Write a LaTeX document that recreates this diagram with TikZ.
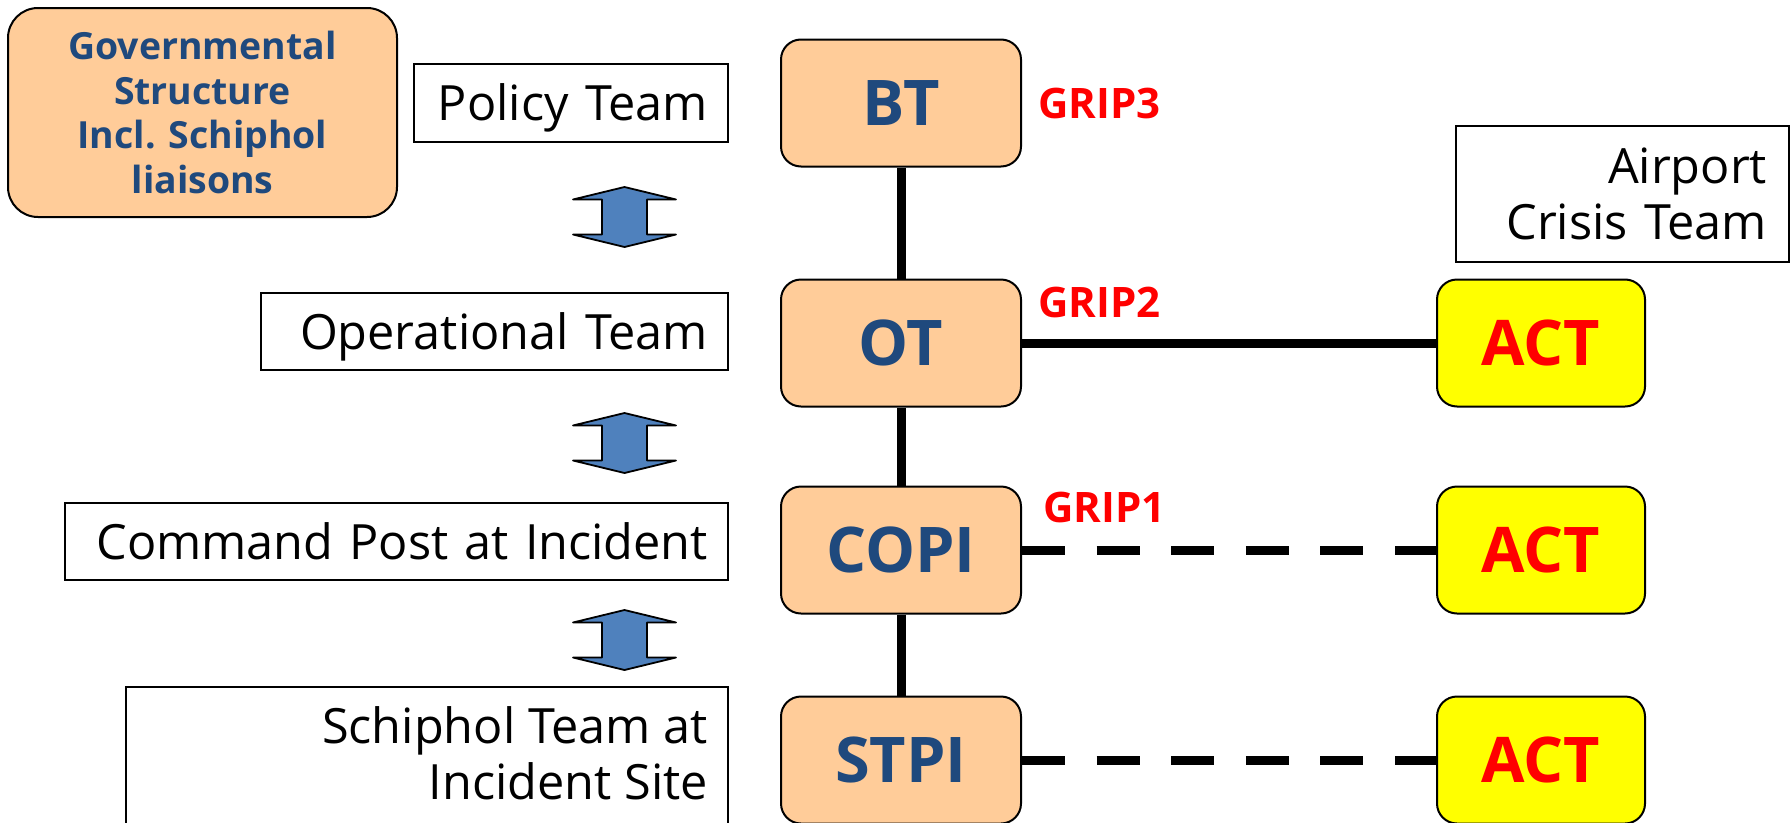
\documentclass[tikz,border=0pt]{standalone}
\usepackage{fontspec}
\setmainfont{Open Sans}
\definecolor{peach}{RGB}{255,204,153}
\definecolor{navy}{RGB}{31,73,125}
\definecolor{arrowblue}{RGB}{79,129,189}
\definecolor{actyellow}{RGB}{255,255,0}
\definecolor{gripred}{RGB}{255,0,0}
\begin{document}
\begin{tikzpicture}[x=1pt,y=-1pt,
  orgbox/.style={draw=black, line width=2pt, fill=peach, rounded corners=20pt,
    minimum width=240pt, minimum height=127pt, inner sep=0pt, text=navy,
    font=\bfseries\fontsize{63}{70}\selectfont},
  actbox/.style={orgbox, fill=actyellow, text=gripred, minimum width=208pt},
  lblbox/.style={draw=black, line width=1.8pt, fill=white, inner xsep=20pt, inner ysep=0pt,
    align=right, font=\fontsize{48.6}{56}\selectfont},
  lbltext/.style={font=\fontsize{48.6}{56}\selectfont, align=right, inner sep=0pt},
  grip/.style={text=gripred, font=\bfseries\fontsize{42}{48}\selectfont, inner sep=0pt, anchor=base west},
  link/.style={line width=9pt},
  dlink/.style={link, dash pattern=on 43pt off 31.6pt},
  dblarrow/.style={draw=black, line width=1.8pt, fill=arrowblue, line join=round},
  pics/dblarr/.style={code={
    \draw[dblarrow] (0,0) -- (-51.5,12.5) -- (-22.5,12.5) -- (-22.5,47.5) -- (-51.5,47.5)
      -- (0,60) -- (51.5,47.5) -- (22.5,47.5) -- (22.5,12.5) -- (51.5,12.5) -- cycle;}}
]
\path[use as bounding box, clip] (0,0) rectangle (1790,822);
\fill[white] (0,0) rectangle (1790,822);

% governmental structure
\node[draw=black, line width=2pt, fill=peach, rounded corners=30pt, minimum width=389pt,
  minimum height=209pt, inner sep=0pt, text=navy, align=center,
  font=\bfseries\fontsize{37.4}{44.5}\selectfont] (gov) at (202.5,112.5)
  {Governmental\\Structure\\Incl. Schiphol\\liaisons};

% label boxes
\node[lblbox, text width=274pt, minimum height=78pt, text height=35pt, text depth=0pt] (pol) at (571,103) {Policy Team};
\node[lblbox, text width=427pt, minimum height=77pt, text height=35pt, text depth=0pt] (opt) at (494.5,331.5) {Operational Team};
\node[lblbox, text width=623pt, minimum height=77pt, text height=35pt, text depth=0pt] (cmd) at (396.5,541.5) {Command Post at Incident};
\node[draw=black, line width=1.8pt, fill=white, minimum width=602pt, minimum height=170pt, inner sep=0pt] (sch) at (427,772) {};
\node[lbltext, anchor=north east] (schtxt) at (708,706) {Schiphol Team at\\Incident Site};
\node[lblbox, inner xsep=22pt, text width=289pt, minimum height=136pt] (act) at (1622.5,194) {Airport\\Crisis Team};

% double arrows
\pic at (624.5,187) {dblarr};
\pic at (624.5,413) {dblarr};
\pic at (624.5,610) {dblarr};

% org boxes
\node[orgbox] (BT) at (901,103) {BT};
\node[orgbox] (OT) at (901,343) {OT};
\node[orgbox] (COPI) at (901,550) {COPI};
\node[orgbox] (STPI) at (901,760) {STPI};
\node[actbox] (ACT1) at (1541,343) {ACT};
\node[actbox] (ACT2) at (1541,550) {ACT};
\node[actbox] (ACT3) at (1541,760) {ACT};

% connectors
\draw[link] (BT) -- (OT);
\draw[link] (OT) -- (COPI);
\draw[link] (COPI) -- (STPI);
\draw[link] (OT.east) -- (ACT1.west);
\draw[dlink] (COPI.east) -- (ACT2.west);
\draw[dlink] (STPI.east) -- (ACT3.west);

% GRIP labels
\node[grip] (g3) at (1038,118) {GRIP3};
\node[grip] (g2) at (1038,317) {GRIP2};
\node[grip] (g1) at (1043,522) {GRIP1};
\end{tikzpicture}
\end{document}
